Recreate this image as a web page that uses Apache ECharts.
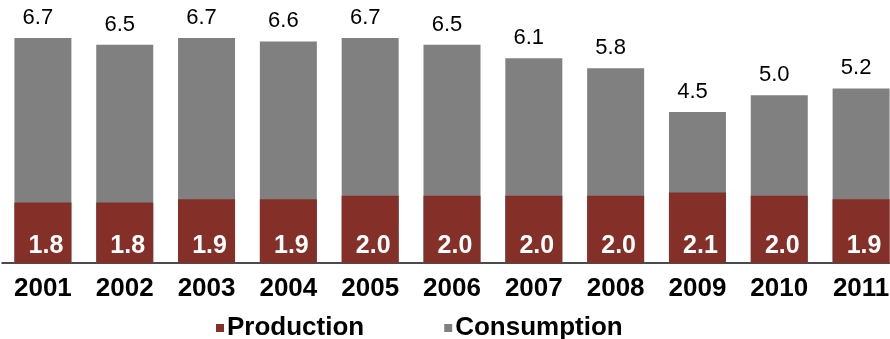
<!DOCTYPE html>
<html>
<head>
<meta charset="utf-8">
<script src="https://cdn.jsdelivr.net/npm/echarts@6/dist/echarts.min.js"></script>
<style>
  html, body { margin: 0; padding: 0; background: #fff; }
  #chart { width: 890px; height: 339px; }
</style>
</head>
<body>
<div id="chart"></div>
<script>
// Years on the category axis
const years = ['2001', '2002', '2003', '2004', '2005', '2006', '2007', '2008', '2009', '2010', '2011'];
// Annual production
const production = [1.8, 1.8, 1.9, 1.9, 2.0, 2.0, 2.0, 2.0, 2.1, 2.0, 1.9];
// Annual consumption
const consumption = [6.7, 6.5, 6.7, 6.6, 6.7, 6.5, 6.1, 5.8, 4.5, 5.0, 5.2];

const FONT = '"Liberation Sans", Arial, sans-serif';
const RED = '#843029';
const GREY = '#808080';

const chart = echarts.init(document.getElementById('chart'), null, { renderer: 'canvas' });
chart.setOption({
  animation: false,
  backgroundColor: '#ffffff',
  // plot area runs slightly past the right edge, so the last year is clipped
  grid: { left: 2, width: 900, top: 28, bottom: 76, outerBoundsMode: 'none', containLabel: false },
  legend: {
    data: ['Production', 'Consumption'],
    left: 211,
    top: 310,
    icon: 'rect',
    itemWidth: 8,
    itemHeight: 8,
    itemGap: 80,
    textStyle: { fontFamily: FONT, fontSize: 26, fontWeight: 'bold', color: '#000', padding: [0, 0, 0, -2] }
  },
  xAxis: {
    type: 'category',
    data: years,
    axisTick: { show: false },
    axisLine: { show: true, lineStyle: { color: '#111', width: 1.5 } },
    axisLabel: { fontFamily: FONT, fontSize: 26, fontWeight: 'bold', color: '#000', margin: 13, interval: 0 }
  },
  yAxis: {
    type: 'value',
    min: 0,
    max: 7,
    show: false,
    splitLine: { show: false }
  },
  series: [
    {
      name: 'Consumption',
      type: 'bar',
      data: consumption,
      barWidth: 57,
      itemStyle: { color: GREY },
      label: {
        show: true,
        position: 'top',
        distance: 9,
        offset: [-5, 0],
        fontFamily: FONT,
        fontSize: 22,
        color: '#000',
        formatter: p => p.value.toFixed(1)
      }
    },
    {
      name: 'Production',
      type: 'bar',
      data: production,
      barWidth: 57,
      barGap: '-100%',
      itemStyle: { color: RED },
      label: {
        show: true,
        position: 'insideBottom',
        distance: 4,
        offset: [3, 0],
        fontFamily: FONT,
        fontSize: 25,
        fontWeight: 'bold',
        color: '#fff',
        formatter: p => p.value.toFixed(1)
      }
    }
  ]
});
</script>
</body>
</html>
